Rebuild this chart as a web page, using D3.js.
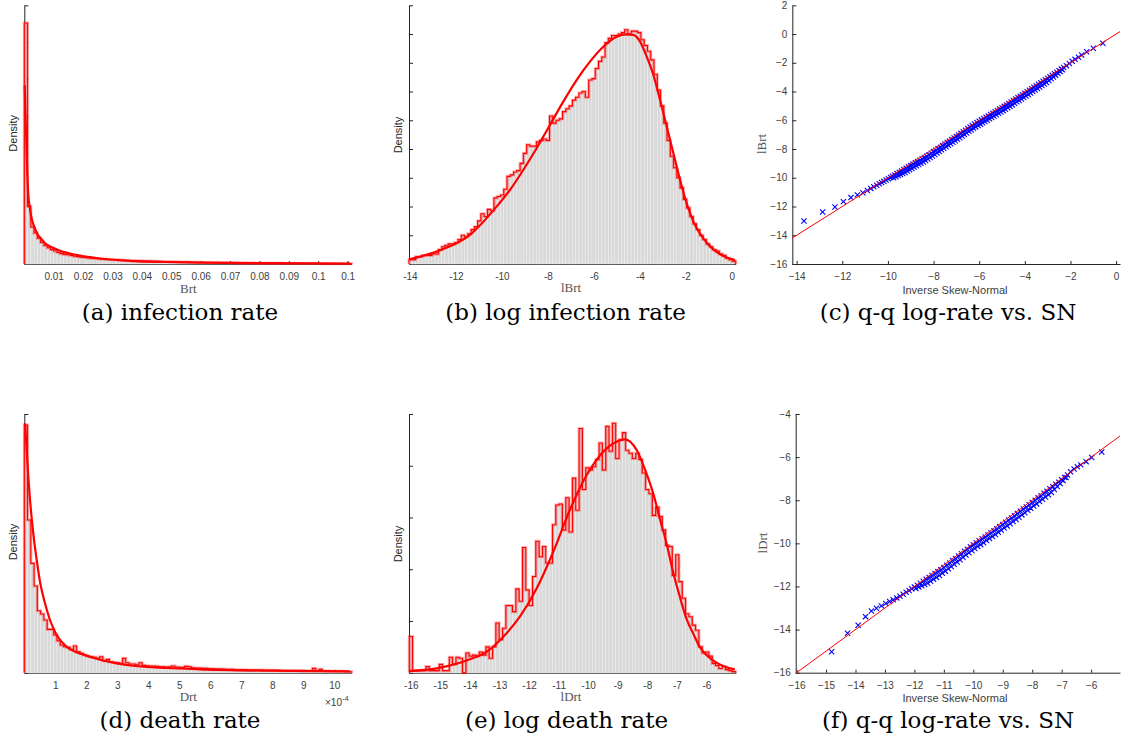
<!DOCTYPE html>
<html>
<head>
<meta charset="utf-8">
<script src="https://cdn.jsdelivr.net/npm/d3@7"></script>
<style>
  body { margin: 0; background: #fff; }
  svg { display: block; }
</style>
</head>
<body>
<svg width="1122" height="738"></svg>
<script>
var svg = d3.select("svg");

// ---------- (a) infection rate ----------
var brtBinStart = 0, brtBinWidth = 0.001114;
var brtHist = [326, 78, 50, 42, 35, 29, 25, 22, 19.5, 17.5,
  15.5, 14, 13, 12.5, 11.5, 10.5, 10, 9.3, 8.8, 8.3,
  7.8, 7.5, 7.2, 6.9, 6.6, 6.3, 6.0, 5.8, 5.6, 5.4,
  5.2, 5.0, 4.8, 4.6, 4.5, 4.3, 4.2, 4.0, 3.9, 3.8,
  3.6, 3.5, 3.4, 3.3, 3.1, 3.0, 2.9, 2.8, 2.7, 2.6,
  2.5, 2.4, 2.3, 2.2, 2.15, 2.1, 2.0, 1.95, 1.9, 1.8,
  1.7, 1.65, 1.6, 1.55, 1.5, 1.4, 1.35, 1.3, 1.25, 1.2,
  1.1, 1.05, 1.0, 1.0, 0.95, 0.9, 0.9, 0.85, 0.85, 0.8,
  0.8, 0.75, 0.75, 0.7, 0.7, 0.65, 0.65, 0.6, 0.6, 0.55,
  0.55, 0.5, 0.5, 0.5, 0.45, 0.45, 0.45, 0.4, 0.4, 0.4];
var brtFitX = [0.00014, 0.00034, 0.00068, 0.00102, 0.00126, 0.00184, 0.00238, 0.00296, 0.00354, 0.00466,
  0.00578, 0.00694, 0.00918, 0.0115, 0.0137, 0.0171, 0.0258, 0.037, 0.0485, 0.06, 0.0825, 0.111];
var brtFitY = [242, 208, 168, 123, 100, 77, 64, 55, 49, 39,
  34, 28.4, 23, 19, 16, 12.8, 7.4, 4, 2.7, 1.8, 1.1, 0.7];
var brtTicks = [0.01, 0.02, 0.03, 0.04, 0.05, 0.06, 0.07, 0.08, 0.09, 0.10, 0.11];
var brtTickLabels = ["0.01", "0.02", "0.03", "0.04", "0.05", "0.06", "0.07", "0.08", "0.09", "0.1", "0.1"];
var brtDensTicks = [0, 50, 100, 150, 200, 250, 300, 350];

// ---------- (b) log infection rate ----------
var lbrtBinStart = -14.04, lbrtBinWidth = 0.1421;
var lbrtHist = [.003, .003, .005, .005, .006, .006, .006, .007, .007, .010,
  .012, .013, .014, .014, .015, .017, .020, .019, .021, .024,
  .026, .030, .035, .033, .038, .037, .046, .047, .048, .052,
  .061, .062, .064, .065, .070, .077, .083, .082, .082, .085,
  .086, .087, .086, .103, .098, .100, .101, .106, .108, .110,
  .114, .116, .119, .120, .116, .128, .129, .136, .141, .144,
  .154, .157, .159, .159, .160, .161, .163, .160, .162, .162,
  .161, .156, .152, .148, .142, .132, .121, .110, .098, .086,
  .075, .067, .060, .053, .045, .039, .033, .028, .024, .020,
  .017, .014, .012, .010, .009, .007, .006, .004, .003, .002];
var lbrtFitX = [-14.04, -12.84, -11.39, -10.23, -9.65, -9.07, -8.49, -7.91, -7.33, -6.75,
  -6.17, -5.59, -5.01, -4.57, -4.28, -3.99, -3.70, -3.41, -3.12, -2.83,
  -2.54, -2.25, -1.96, -1.67, -1.24, -0.80, -0.37, 0.14];
var lbrtFitY = [0.0032, 0.0086, 0.0202, 0.0399, 0.0515, 0.0654, 0.0805, 0.0967, 0.1130, 0.1280,
  0.1408, 0.1512, 0.1582, 0.1598, 0.1594, 0.1547, 0.1443, 0.1315, 0.1141, 0.0956,
  0.0770, 0.0585, 0.0422, 0.0295, 0.0179, 0.0102, 0.0056, 0.0028];
var lbrtTicks = [-14, -12, -10, -8, -6, -4, -2, 0];
var lbrtDensTicks = [0, 0.02, 0.04, 0.06, 0.08, 0.10, 0.12, 0.14, 0.16, 0.18];

// ---------- (c) q-q log infection rate vs skew-normal ----------
// tail + dense part, then the lower edge of the dense band
var qqBx = [-13.68, -12.86, -12.32, -11.95, -11.62, -11.34, -11.10, -10.90, -10.75, -10.62,
  -10.49, -10.38, -10.28, -10.18, -10.08, -9.98, -9.88,
  -9.8, -9.7, -9.6, -9.5, -9.4, -9.3, -9.2, -9.1, -9.0, -8.9,
  -8.8, -8.7, -8.6, -8.5, -8.4, -8.3, -8.2, -8.1, -8.0, -7.9,
  -7.8, -7.7, -7.6, -7.5, -7.4, -7.3, -7.2, -7.1, -7.0, -6.9,
  -6.8, -6.7, -6.6, -6.5, -6.4, -6.3, -6.2, -6.1, -6.0, -5.9,
  -5.8, -5.7, -5.6, -5.5, -5.4, -5.3, -5.2, -5.1, -5.0, -4.9,
  -4.8, -4.7, -4.6, -4.5, -4.4, -4.3, -4.2, -4.1, -4.0, -3.9,
  -3.8, -3.7, -3.6, -3.5, -3.4, -3.3, -3.2, -3.1, -3.0, -2.9,
  -2.8, -2.7, -2.6, -2.5, -2.4, -2.3,
  -2.18, -2.05, -1.92, -1.80, -1.65, -1.51, -1.29, -1.00, -0.58,
  -9.75, -9.65, -9.55, -9.45, -9.35, -9.25, -9.15, -9.05, -8.95, -8.85,
  -8.75, -8.65, -8.55, -8.45, -8.35, -8.25, -8.15, -8.05, -7.95, -7.85,
  -7.75, -7.65, -7.55, -7.45, -7.35, -7.25, -7.15, -7.05, -6.95, -6.85,
  -6.75, -6.65, -6.55, -6.45, -6.35, -6.25, -6.15, -6.05, -5.95, -5.85,
  -5.75, -5.65, -5.55, -5.45, -5.35, -5.25, -5.15, -5.05, -4.95, -4.85,
  -4.75, -4.65, -4.55, -4.45, -4.35, -4.25, -4.15, -4.05, -3.95, -3.85,
  -3.75, -3.65, -3.55, -3.45, -3.35, -3.25, -3.15, -3.05, -2.95, -2.85,
  -2.75, -2.65, -2.55, -2.45, -2.35];
var qqBy = [-13.01, -12.38, -12.03, -11.66, -11.38, -11.19, -11.04, -10.88, -10.74, -10.63,
  -10.52, -10.42, -10.33, -10.25, -10.16, -10.07, -9.98,
  -9.90, -9.80, -9.71, -9.61, -9.52, -9.42, -9.33, -9.23, -9.14, -9.05,
  -8.96, -8.87, -8.78, -8.69, -8.60, -8.50, -8.40, -8.29, -8.18, -8.08,
  -7.97, -7.87, -7.76, -7.65, -7.55, -7.44, -7.34, -7.23, -7.13, -7.02,
  -6.91, -6.80, -6.69, -6.58, -6.47, -6.37, -6.26, -6.16, -6.06, -5.97,
  -5.88, -5.79, -5.70, -5.60, -5.51, -5.41, -5.32, -5.22, -5.12, -5.03,
  -4.93, -4.83, -4.73, -4.63, -4.52, -4.42, -4.32, -4.22, -4.12, -4.01,
  -3.91, -3.80, -3.70, -3.60, -3.49, -3.39, -3.28, -3.18, -3.08, -2.97,
  -2.86, -2.76, -2.65, -2.55, -2.44, -2.33,
  -2.20, -2.05, -1.90, -1.76, -1.62, -1.46, -1.23, -0.99, -0.64,
  -10.00, -9.93, -9.85, -9.78, -9.70, -9.63, -9.53, -9.44, -9.35, -9.26,
  -9.17, -9.08, -8.99, -8.90, -8.80, -8.70, -8.59, -8.48, -8.38, -8.27,
  -8.17, -8.06, -7.95, -7.85, -7.74, -7.64, -7.53, -7.43, -7.32, -7.21,
  -7.10, -6.99, -6.88, -6.77, -6.67, -6.56, -6.46, -6.36, -6.27, -6.18,
  -6.09, -6.00, -5.90, -5.81, -5.71, -5.62, -5.52, -5.42, -5.33, -5.23,
  -5.13, -5.03, -4.93, -4.82, -4.72, -4.62, -4.52, -4.42, -4.31, -4.21,
  -4.10, -4.00, -3.90, -3.79, -3.69, -3.58, -3.48, -3.38, -3.24, -3.11,
  -2.99, -2.86, -2.74, -2.61, -2.48];
var qqBTicksX = [-14, -12, -10, -8, -6, -4, -2, 0];
var qqBTicksY = [-16, -14, -12, -10, -8, -6, -4, -2, 0, 2];

// ---------- (d) death rate (x in units of 1e-4) ----------
var drtBinStart = 0, drtBinWidth = 0.1056;
var drtHist = [7660, 4722, 3382, 2681, 1918, 1815, 1629, 1340, 1340, 1165,
  990, 856, 804, 784, 722, 825, 650, 598, 546, 516,
  495, 474, 443, 495, 371, 412, 340, 320, 309, 289,
  443, 309, 268, 268, 247, 309, 227, 217, 206, 206,
  196, 186, 186, 175, 186, 206, 175, 165, 165, 196,
  186, 155, 144, 144, 134, 134, 124, 124, 113, 113,
  113, 103, 103, 103, 93, 93, 93, 93, 82, 82,
  82, 82, 82, 72, 72, 72, 72, 72, 62, 62,
  62, 62, 62, 62, 52, 52, 52, 52, 134, 52,
  103, 52, 52, 41, 41, 41, 41, 41, 31, 31];
var drtFitX = [0.023, 0.077, 0.129, 0.184, 0.29, 0.40, 0.506, 0.667, 0.828, 1.044,
  1.366, 1.90, 2.44, 2.98, 3.51, 4.59, 5.66, 7.81, 10.50];
var drtFitY = [7712, 6886, 6061, 5349, 4310, 3485, 2814, 2146, 1630, 1166,
  804, 560, 400, 290, 215, 145, 105, 62, 40];
var drtTicks = [1, 2, 3, 4, 5, 6, 7, 8, 9, 10];
var drtDensTicks = [0, 1000, 2000, 3000, 4000, 5000, 6000, 7000, 8000];

// ---------- (e) log death rate ----------
var ldrtBinStart = -16.05, ldrtBinWidth = 0.1126;
var ldrtHist = [.035, .002, .002, .002, .002, .006, .002, .002, .002, .008,
  .002, .002, .015, .008, .015, .014, 0, .019, .016, .017,
  .016, .020, .017, .025, .014, .025, .048, .032, .043, .065,
  .065, .059, .081, .069, .121, .080, .065, .093, .127, .112,
  .122, .106, .106, .143, .162, .163, .138, .169, .136, .188,
  .157, .236, .177, .198, .196, .199, .206, .222, .196, .238,
  .214, .241, .207, .225, .232, .215, .212, .207, .212, .206,
  .193, .177, .173, .152, .160, .151, .138, .123, .122, .094,
  .114, .088, .072, .057, .054, .046, .041, .025, .019, .020,
  .016, .009, .007, .004, .006, .003, .002, .001];
var ldrtFitX = [-16.06, -15.12, -14.0, -13.43, -12.87, -12.31, -11.74, -11.18, -10.62, -10.05,
  -9.49, -9.04, -8.76, -8.36, -8.03, -7.80, -7.58, -7.35, -7.13, -6.90,
  -6.68, -6.45, -6.23, -6.0, -5.66, -5.32, -5.04];
var ldrtFitY = [0.0016, 0.0042, 0.0129, 0.0203, 0.0348, 0.0541, 0.0815, 0.1169, 0.1572, 0.1910,
  0.2136, 0.2233, 0.2255, 0.2152, 0.1927, 0.1733, 0.1492, 0.1250, 0.0976, 0.0735,
  0.0525, 0.0380, 0.0251, 0.0171, 0.0097, 0.0052, 0.0032];
var ldrtTicks = [-16, -15, -14, -13, -12, -11, -10, -9, -8, -7, -6];
var ldrtDensTicks = [0, 0.05, 0.10, 0.15, 0.20, 0.25];

// ---------- (f) q-q log death rate vs skew-normal ----------
var qqDx = [-14.81, -14.27, -13.91, -13.66, -13.46, -13.29, -13.12, -12.97, -12.84, -12.72,
  -12.60, -12.49, -12.38, -12.28, -12.18, -12.09,
  -12.0, -11.9, -11.8, -11.7, -11.6, -11.5, -11.4, -11.3, -11.2, -11.1,
  -11.0, -10.9, -10.8, -10.7, -10.6, -10.5, -10.4, -10.3, -10.2, -10.1,
  -10.0, -9.9, -9.8, -9.7, -9.6, -9.5, -9.4, -9.3, -9.2, -9.1,
  -9.0, -8.9, -8.8, -8.7, -8.6, -8.5, -8.4, -8.3, -8.2, -8.1,
  -8.0, -7.9, -7.8, -7.7, -7.6, -7.5, -7.4, -7.3, -7.2, -7.1,
  -7.0, -6.9, -6.8,
  -6.70, -6.58, -6.47, -6.35, -6.17, -5.98, -5.64,
  -11.95, -11.85, -11.75, -11.65, -11.55, -11.45, -11.35, -11.25, -11.15, -11.05,
  -10.95, -10.85, -10.75, -10.65, -10.55, -10.45, -10.35, -10.25, -10.15, -10.05,
  -9.95, -9.85, -9.75, -9.65, -9.55, -9.45, -9.35, -9.25, -9.15, -9.05,
  -8.95, -8.85, -8.75, -8.65, -8.55, -8.45, -8.35, -8.25, -8.15, -8.05,
  -7.95, -7.85, -7.75, -7.65, -7.55, -7.45, -7.35, -7.25, -7.15, -7.05,
  -6.95, -6.85];
var qqDy = [-15.03, -14.17, -13.80, -13.40, -13.14, -13.01, -12.90, -12.79, -12.70, -12.62,
  -12.53, -12.45, -12.36, -12.27, -12.19, -12.11,
  -12.03, -11.94, -11.85, -11.76, -11.67, -11.58, -11.49, -11.40, -11.31, -11.22,
  -11.12, -11.01, -10.91, -10.80, -10.70, -10.59, -10.48, -10.37, -10.27, -10.16,
  -10.06, -9.97, -9.88, -9.79, -9.70, -9.60, -9.51, -9.41, -9.32, -9.22,
  -9.12, -9.02, -8.92, -8.82, -8.72, -8.62, -8.51, -8.41, -8.31, -8.21,
  -8.10, -8.00, -7.89, -7.79, -7.68, -7.58, -7.47, -7.37, -7.26, -7.16,
  -7.05, -6.94, -6.83,
  -6.68, -6.55, -6.45, -6.36, -6.21, -6.02, -5.76,
  -12.09, -12.03, -11.97, -11.91, -11.85, -11.76, -11.67, -11.58, -11.49, -11.39,
  -11.29, -11.18, -11.08, -10.97, -10.87, -10.76, -10.65, -10.54, -10.44, -10.33,
  -10.24, -10.15, -10.06, -9.97, -9.87, -9.78, -9.68, -9.59, -9.49, -9.39,
  -9.29, -9.19, -9.09, -8.99, -8.89, -8.79, -8.68, -8.58, -8.47, -8.37,
  -8.27, -8.17, -8.06, -7.96, -7.85, -7.75, -7.64, -7.50, -7.36, -7.23,
  -7.09, -6.95];
var qqDTicksX = [-16, -15, -14, -13, -12, -11, -10, -9, -8, -7, -6];
var qqDTicksY = [-16, -14, -12, -10, -8, -6, -4];

// ---------- helpers ----------
var sans = "'Liberation Sans', Arial, Helvetica, sans-serif";
var serif = "'Liberation Serif', 'Times New Roman', serif";

function styleAxis(a) {
  a.selectAll(".domain, .tick line").attr("stroke", "#262626").attr("stroke-width", 1);
  a.selectAll("text").attr("fill", "#404040").attr("font-family", sans).attr("font-size", 10);
}

function label(txt, x, y, o) {
  o = o || {};
  var t = svg.append("text")
    .attr("text-anchor", "middle")
    .attr("font-family", o.font || sans)
    .attr("font-size", o.size || 11)
    .attr("fill", o.color || "#262626")
    .text(txt);
  if (o.rotate) t.attr("transform", "translate(" + x + "," + y + ") rotate(-90)").attr("dy", "0.35em");
  else t.attr("x", x).attr("y", y).attr("dy", o.dy == null ? "0.35em" : o.dy);
  return t;
}

function histPanel(o) {
  var x = d3.scaleLinear().domain(o.xDom).range([o.left, o.right]);
  var y = d3.scaleLinear().domain(o.yDom).range([o.bottom, o.top]);
  var g = svg.append("g");

  var xa = g.append("g").attr("transform", "translate(0," + o.bottom + ")")
    .call(d3.axisBottom(x).tickValues(o.xTicks).tickSizeInner(-3).tickSizeOuter(0).tickPadding(9)
      .tickFormat(function (d, i) { return o.xLabels ? o.xLabels[i] : d; }));
  styleAxis(xa);
  var ya = g.append("g").attr("transform", "translate(" + o.left + ",0)")
    .call(d3.axisLeft(y).tickValues(o.yTicks).tickSizeInner(-4).tickSizeOuter(0).tickFormat(""));
  styleAxis(ya);

  var n = o.hist.length;
  function edge(i) { return o.start + i * o.width; }

  g.append("g").selectAll("rect").data(o.hist).join("rect")
    .attr("x", function (d, i) { return x(edge(i)); })
    .attr("width", function (d, i) { return x(edge(i + 1)) - x(edge(i)); })
    .attr("y", function (d) { return y(d); })
    .attr("height", function (d) { return y(0) - y(d); })
    .attr("fill", "#d9d9d9")
    .attr("stroke", "#efefef")
    .attr("stroke-width", 0.5);

  var pts = [[edge(0), 0]]
    .concat(o.hist.map(function (h, i) { return [edge(i), h]; }))
    .concat([[edge(n), o.hist[n - 1]], [edge(n), 0]]);
  var stair = d3.line().x(function (d) { return x(d[0]); }).y(function (d) { return y(d[1]); })
    .curve(d3.curveStepAfter);
  g.append("path").attr("d", stair(pts)).attr("fill", "none")
    .attr("stroke", "rgba(255,0,0,0.3)").attr("stroke-width", 3);
  g.append("path").attr("d", stair(pts)).attr("fill", "none")
    .attr("stroke", "#ff0000").attr("stroke-width", 1.1);

  var fit = d3.line().x(function (d) { return x(d[0]); }).y(function (d) { return y(d[1]); })
    .curve(d3.curveMonotoneX);
  g.append("path").attr("d", fit(d3.zip(o.fitX, o.fitY))).attr("fill", "none")
    .attr("stroke", "#ff0000").attr("stroke-width", 2.2).attr("stroke-linejoin", "round");
}

function qqPanel(o) {
  var x = d3.scaleLinear().domain(o.xDom).range([o.left, o.right]);
  var y = d3.scaleLinear().domain(o.yDom).range([o.bottom, o.top]);
  var g = svg.append("g");

  var xa = g.append("g").attr("transform", "translate(0," + o.bottom + ")")
    .call(d3.axisBottom(x).tickValues(o.xTicks).tickSizeInner(-3).tickSizeOuter(0).tickPadding(9));
  styleAxis(xa);
  var ya = g.append("g").attr("transform", "translate(" + o.left + ",0)")
    .call(d3.axisLeft(y).tickValues(o.yTicks).tickSizeInner(-4).tickSizeOuter(0).tickPadding(5));
  styleAxis(ya);

  var s = 2.6;
  g.append("g").selectAll("path").data(d3.zip(o.qx, o.qy)).join("path")
    .attr("transform", function (d) { return "translate(" + x(d[0]) + "," + y(d[1]) + ")"; })
    .attr("d", "M" + (-s) + "," + (-s) + "L" + s + "," + s + "M" + (-s) + "," + s + "L" + s + "," + (-s))
    .attr("stroke", "#0000ff").attr("stroke-width", 1.1).attr("fill", "none");

  // reference line y = x
  var x0 = o.xDom[0], x1 = o.xDom[1];
  g.append("line")
    .attr("x1", x(x0)).attr("y1", y(x0)).attr("x2", x(x1)).attr("y2", y(x1))
    .attr("stroke", "#ff0000").attr("stroke-width", 1);
}

// ---------- layout ----------
var top1 = 5.3, bot1 = 264, top2 = 414, bot2 = 672.7;

histPanel({ left: 24.3, right: 351.7, top: top1, bottom: bot1, xDom: [0, 0.1114], yDom: [0, 350],
  xTicks: brtTicks, xLabels: brtTickLabels, yTicks: brtDensTicks,
  hist: brtHist, start: brtBinStart, width: brtBinWidth, fitX: brtFitX, fitY: brtFitY });
histPanel({ left: 409, right: 735.7, top: top1, bottom: bot1, xDom: [-14.04, 0.17], yDom: [0, 0.18],
  xTicks: lbrtTicks, yTicks: lbrtDensTicks,
  hist: lbrtHist, start: lbrtBinStart, width: lbrtBinWidth, fitX: lbrtFitX, fitY: lbrtFitY });
qqPanel({ left: 792.3, right: 1120, top: top1, bottom: bot1, xDom: [-14.19, 0.17], yDom: [-16, 2],
  xTicks: qqBTicksX, yTicks: qqBTicksY, qx: qqBx, qy: qqBy });

histPanel({ left: 24.3, right: 351.7, top: top2, bottom: bot2, xDom: [0, 10.56], yDom: [0, 8000],
  xTicks: drtTicks, yTicks: drtDensTicks,
  hist: drtHist, start: drtBinStart, width: drtBinWidth, fitX: drtFitX, fitY: drtFitY });
histPanel({ left: 409, right: 736, top: top2, bottom: bot2, xDom: [-16.06, -5.0], yDom: [0, 0.25],
  xTicks: ldrtTicks, yTicks: ldrtDensTicks,
  hist: ldrtHist, start: ldrtBinStart, width: ldrtBinWidth, fitX: ldrtFitX, fitY: ldrtFitY });
qqPanel({ left: 795.7, right: 1120, top: top2, bottom: bot2, xDom: [-16.03, -5.02], yDom: [-16, -4],
  xTicks: qqDTicksX, yTicks: qqDTicksY, qx: qqDx, qy: qqDy });

// ---------- axis labels ----------
var gray = "#555555";
label("Density", 13.3, 133.3, { rotate: true });
label("Density", 398.3, 135, { rotate: true });
label("Density", 13.3, 542, { rotate: true });
label("Density", 398.3, 544, { rotate: true });
label("lBrt", 761.7, 144, { rotate: true, font: serif, size: 13, color: gray });
label("lDrt", 762, 543, { rotate: true, font: serif, size: 13, color: gray });

label("Brt", 188.3, 288, { font: serif, size: 13, color: gray });
label("lBrt", 571, 287.5, { font: serif, size: 13, color: gray });
label("Inverse Skew-Normal", 955, 290, { color: "#404040" });
label("Drt", 188.3, 696.5, { font: serif, size: 13, color: gray });
label("lDrt", 571, 696, { font: serif, size: 13, color: gray });
label("Inverse Skew-Normal", 955, 698.5, { color: "#404040" });

var mult = svg.append("text").attr("x", 325).attr("y", 705.5)
  .attr("font-family", sans).attr("font-size", 10).attr("fill", "#404040");
mult.append("tspan").text("\u00d710");
mult.append("tspan").attr("dy", -5).attr("font-size", 7.5).text("-4");

// ---------- captions ----------
var capFont = "'DejaVu Serif', serif";
var captions = [
  ["(a) infection rate", 180, 319.5], ["(b) log infection rate", 565.5, 319.5], ["(c) q-q log-rate vs. SN", 948, 319.5],
  ["(d) death rate", 180, 728], ["(e) log death rate", 566.5, 728], ["(f) q-q log-rate vs. SN", 948, 728]
];
captions.forEach(function (c) {
  label(c[0], c[1], c[2], { font: capFont, size: 23, color: "#000", dy: 0 });
});
</script>
</body>
</html>
